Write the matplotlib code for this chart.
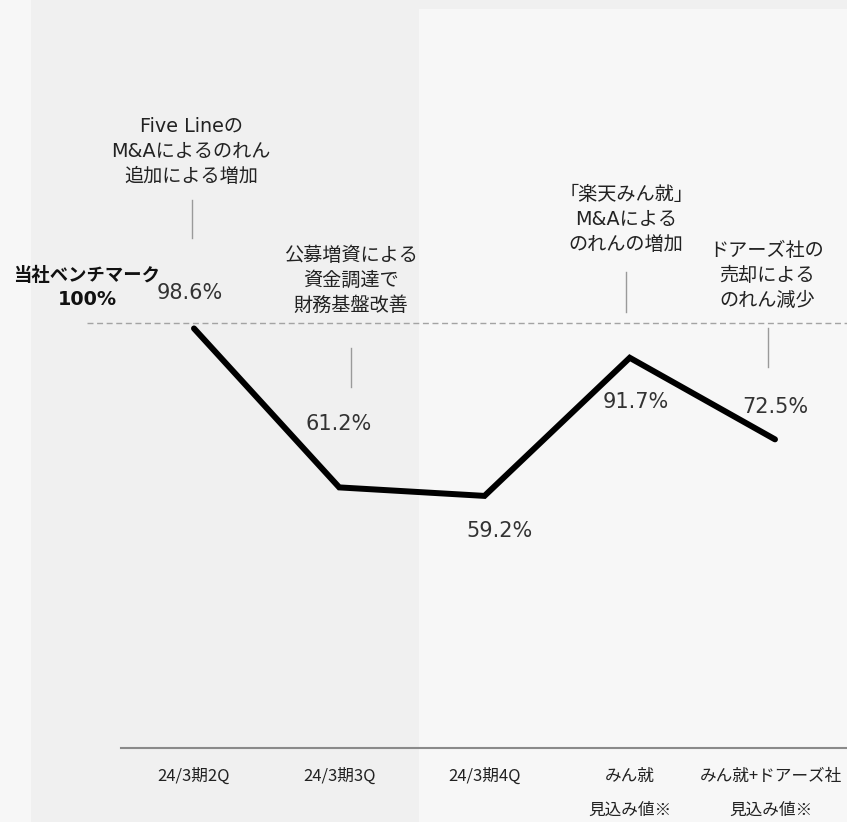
import matplotlib
matplotlib.use("Agg")
import matplotlib.pyplot as plt
from matplotlib.patches import Rectangle
from matplotlib.lines import Line2D
from matplotlib.transforms import offset_copy

# ---- data -------------------------------------------------------------
categories = ["24/3期2Q", "24/3期3Q", "24/3期4Q",
              "みん就\n見込み値※", "みん就+ドアーズ社\n見込み値※"]
values = [98.6, 61.2, 59.2, 91.7, 72.5]
benchmark = 100
benchmark_title = "当社ベンチマーク"
benchmark_label = "100%"

notes = [
    "Five Lineの\nM&Aによるのれん\n追加による増加",
    "公募増資による\n資金調達で\n財務基盤改善",
    "「楽天みん就」\nM&Aによる\nのれんの増加",
    "ドアーズ社の\n売却による\nのれん減少",
]

# ---- layout helpers (pixel -> figure fraction) --------------------------
W, H = 847, 822
fig = plt.figure(figsize=(W / 100, H / 100), dpi=100)
fig.patch.set_facecolor("#f7f7f7")


def fx(px):
    return px / W


def fy(py):
    return 1 - py / H


JP = ["DejaVu Sans", "Noto Sans CJK JP"]
JP_TICK = ["Noto Sans CJK JP", "DejaVu Sans"]

# background panels
fig.add_artist(Rectangle((fx(31), 0), 1 - fx(31), 1, transform=fig.transFigure,
                         facecolor="#f0f0f0", edgecolor="none", zorder=-2))
fig.add_artist(Rectangle((fx(419), 0), 1 - fx(419), fy(9), transform=fig.transFigure,
                         facecolor="#f7f7f7", edgecolor="none", zorder=-1))

ax = fig.add_axes([0, 0, 1, 1])
ax.set_facecolor("none")
ax.axis("off")
x = list(range(len(values)))
step, x0 = 145.25, 194.0
ax.set_xlim(-x0 / step, (W - x0) / step)
scale, y0 = 4.25, 747.5
ax.set_ylim((y0 - H) / scale, y0 / scale)

# baseline and benchmark line
ax.axhline(0, xmin=fx(121), xmax=1, color="#8a8a8a", lw=1.5, zorder=1)
ax.axhline(benchmark, xmin=fx(87), xmax=1, color="#a3a3a3", lw=1.0,
           dashes=(4.3, 2.6), zorder=1)

# main series
ax.plot(x, values, color="#000000", lw=4.3, solid_capstyle="round",
        solid_joinstyle="miter", zorder=3)

# value labels (offsets in pixels from each point)
label_offsets = [(-4, 29.5), (-1, 57), (15, -41), (6, -50), (0, 26)]
for xi, v, (dx, dy) in zip(x, values, label_offsets):
    ax.annotate(f"{v}%", (xi, v), xytext=(dx, dy), textcoords="offset pixels",
                ha="center", va="baseline", fontsize=15, color="#333333",
                family="DejaVu Sans", zorder=4)

# category labels
xt = ax.get_xaxis_transform()
tick_shift = [0, 0, 0, 0, -4]
for xi, cat, sh in zip(x, categories, tick_shift):
    tr = offset_copy(xt, fig=fig, x=sh, y=0, units="dots")
    for k, line in enumerate(cat.split("\n")):
        ax.text(xi, fy(781 + 34 * k), line, transform=tr, ha="center",
                va="baseline", fontsize=12, color="#222222", family=JP_TICK)

# benchmark caption
fig.text(fx(87), fy(281), benchmark_title, ha="center", va="baseline",
         fontsize=13.2, fontweight="bold", color="#111111", family=JP)
fig.text(fx(87), fy(305), benchmark_label, ha="center", va="baseline",
         fontsize=13.8, fontweight="bold", color="#111111", family=JP)

# callout notes with leader lines
note_pos = [(191, 132), (351, 261), (626, 199.5), (767, 255.5)]
leaders = [(192, 200, 238), (351, 348, 387), (626, 272, 312), (768, 328, 367)]
for text, (cx, by), (lx, ly0, ly1) in zip(notes, note_pos, leaders):
    for k, line in enumerate(text.split("\n")):
        fig.text(fx(cx), fy(by + 25 * k), line, ha="center", va="baseline",
                 fontsize=13.8, color="#222222", family=JP)
    fig.add_artist(Line2D([fx(lx), fx(lx)], [fy(ly0), fy(ly1)],
                          transform=fig.transFigure, color="#9a9a9a", lw=1.0))

fig.savefig("out.png", dpi=100, facecolor=fig.get_facecolor())
